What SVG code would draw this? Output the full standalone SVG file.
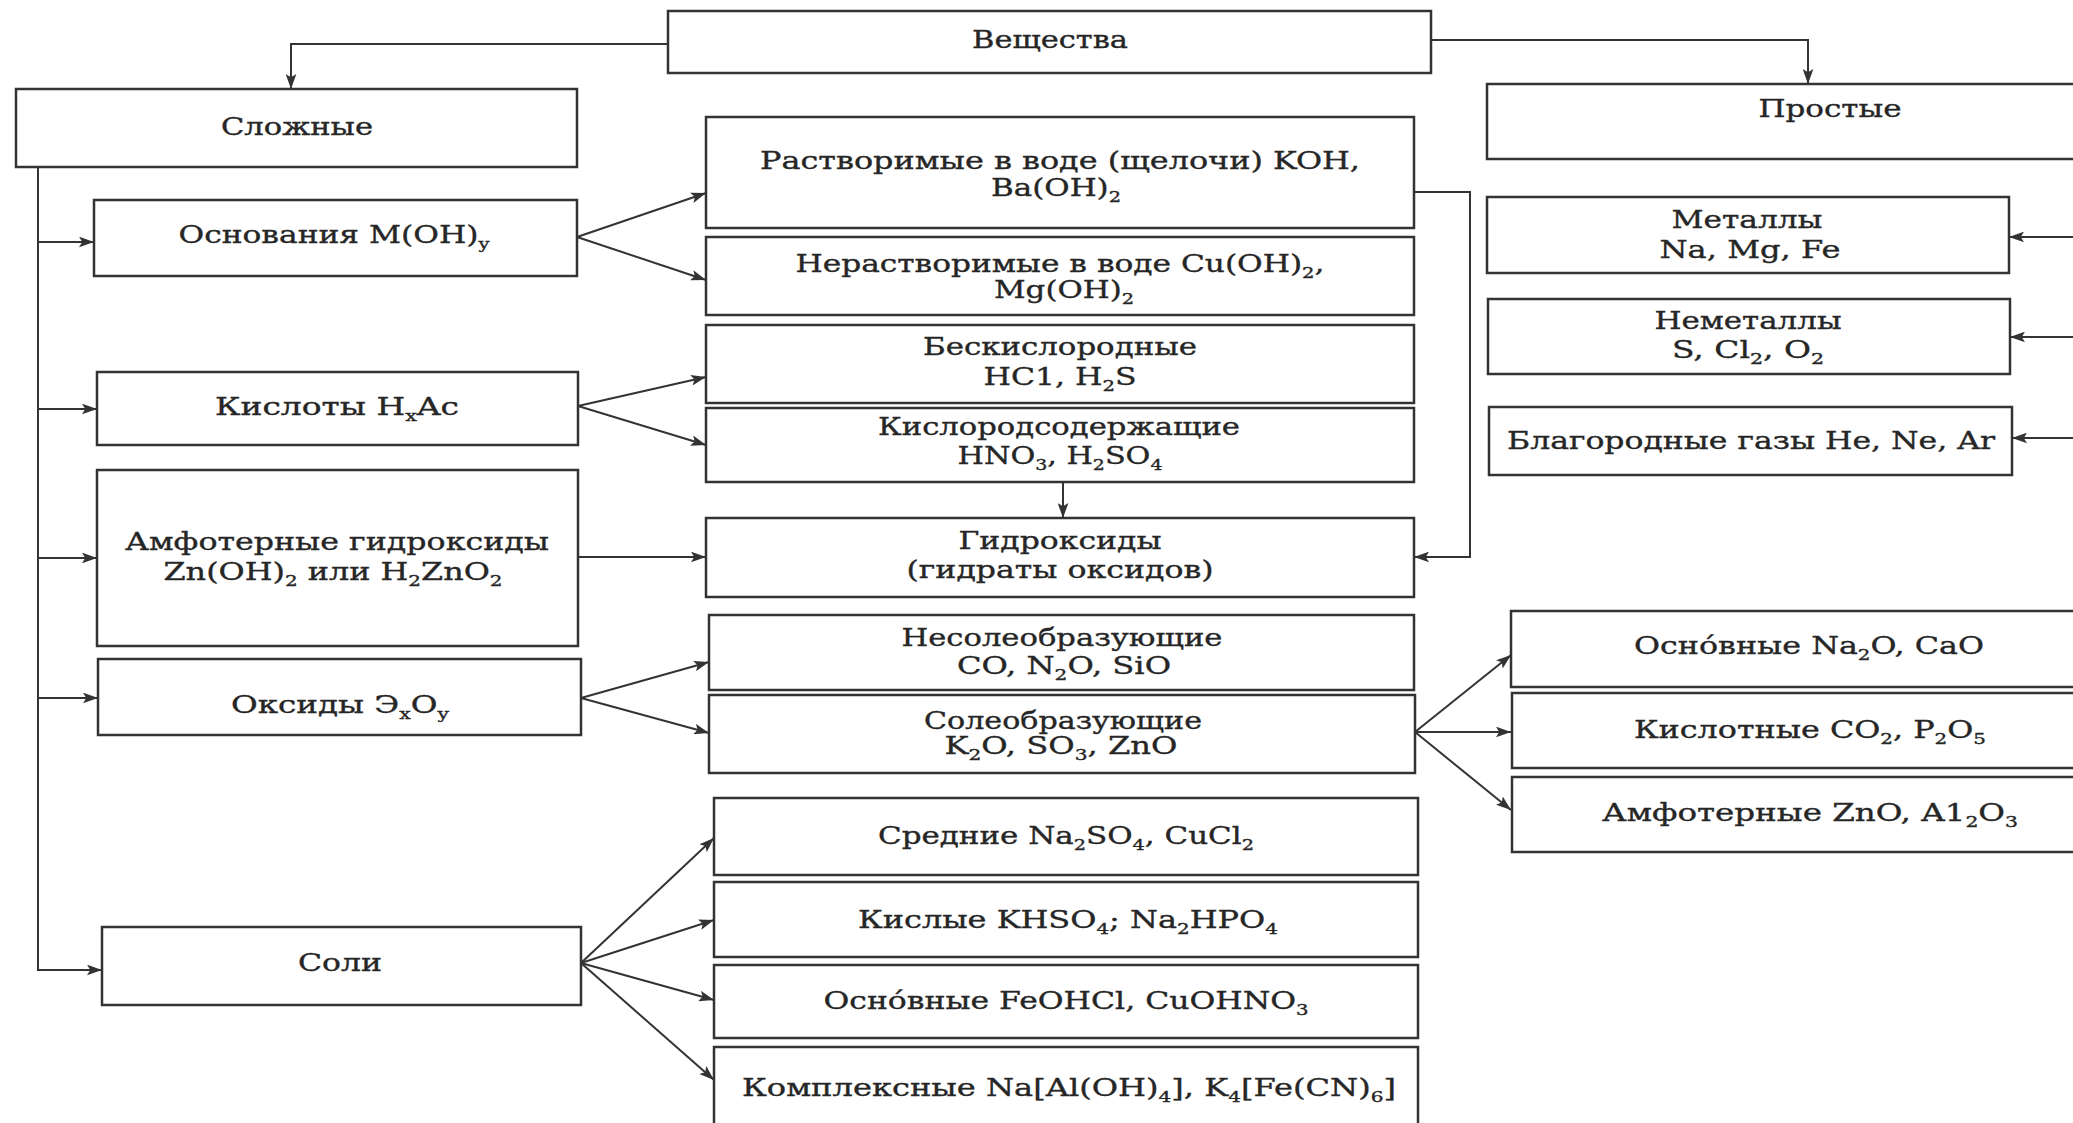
<svg xmlns="http://www.w3.org/2000/svg" width="2073" height="1123" viewBox="0 0 2073 1123">
<defs>
<style>
.bx{fill:#fff;stroke:#333;stroke-width:2.5}
.t{font-family:"DejaVu Serif","Liberation Serif",serif;font-size:24px;fill:#262626;stroke:#262626;stroke-width:0.35px;text-anchor:middle}
.sb{font-size:15px}
.cn{fill:none;stroke:#333;stroke-width:2}
</style>
<marker id="ah" viewBox="0 0 14 10" refX="14" refY="5" markerWidth="15" markerHeight="11" orient="auto" markerUnits="userSpaceOnUse">
<path d="M0,0 L14,5 L0,10 L3,5 z" fill="#333"/>
</marker>
</defs>
<rect x="0" y="0" width="2073" height="1123" fill="#fff"/>

<g id="connectors">
<path class="cn" d="M668,44 H291 V89" marker-end="url(#ah)"/>
<path class="cn" d="M1431,40 H1808 V84" marker-end="url(#ah)"/>
<path class="cn" d="M38,167 V970 H102" marker-end="url(#ah)"/>
<path class="cn" d="M38,242 H94" marker-end="url(#ah)"/>
<path class="cn" d="M38,409 H97" marker-end="url(#ah)"/>
<path class="cn" d="M38,558 H97" marker-end="url(#ah)"/>
<path class="cn" d="M38,698 H98" marker-end="url(#ah)"/>
<path class="cn" d="M577,237 L706,193" marker-end="url(#ah)"/>
<path class="cn" d="M577,237 L706,280" marker-end="url(#ah)"/>
<path class="cn" d="M578,406 L706,377" marker-end="url(#ah)"/>
<path class="cn" d="M578,406 L706,445" marker-end="url(#ah)"/>
<path class="cn" d="M578,557 H706" marker-end="url(#ah)"/>
<path class="cn" d="M1063,482 V518" marker-end="url(#ah)"/>
<path class="cn" d="M1414,192 H1470 V557 H1414" marker-end="url(#ah)"/>
<path class="cn" d="M581,698 L709,662" marker-end="url(#ah)"/>
<path class="cn" d="M581,698 L709,733" marker-end="url(#ah)"/>
<path class="cn" d="M1415,732 L1511,655" marker-end="url(#ah)"/>
<path class="cn" d="M1415,732 H1511" marker-end="url(#ah)"/>
<path class="cn" d="M1415,732 L1511,810" marker-end="url(#ah)"/>
<path class="cn" d="M581,963 L714,838" marker-end="url(#ah)"/>
<path class="cn" d="M581,963 L714,920" marker-end="url(#ah)"/>
<path class="cn" d="M581,963 L714,1000" marker-end="url(#ah)"/>
<path class="cn" d="M581,963 L714,1080" marker-end="url(#ah)"/>
<path class="cn" d="M2075,237 H2009" marker-end="url(#ah)"/>
<path class="cn" d="M2075,337 H2010" marker-end="url(#ah)"/>
<path class="cn" d="M2075,438 H2012" marker-end="url(#ah)"/>
</g>

<g id="n-veshchestva"><rect class="bx" x="668" y="11" width="763" height="62"/>
<text class="t" x="1050" y="48" textLength="156" lengthAdjust="spacingAndGlyphs">Вещества</text></g>

<g id="n-slozhnye"><rect class="bx" x="16" y="89" width="561" height="78"/>
<text class="t" x="297" y="135" textLength="152" lengthAdjust="spacingAndGlyphs">Сложные</text></g>

<g id="n-prostye"><rect class="bx" x="1487" y="84" width="620" height="75"/>
<text class="t" x="1830" y="117" textLength="143" lengthAdjust="spacingAndGlyphs">Простые</text></g>

<g id="n-osnovaniya"><rect class="bx" x="94" y="200" width="483" height="76"/>
<text class="t" x="334" y="243" textLength="311" lengthAdjust="spacingAndGlyphs">Основания M(OH)<tspan class="sb" dy="6">y</tspan></text></g>

<g id="n-kisloty"><rect class="bx" x="97" y="372" width="481" height="73"/>
<text class="t" x="337" y="415" textLength="244" lengthAdjust="spacingAndGlyphs">Кислоты H<tspan class="sb" dy="6">x</tspan><tspan dy="-6">Ac</tspan></text></g>

<g id="n-amfoternye-gidroksidy"><rect class="bx" x="97" y="470" width="481" height="176"/>
<text class="t" x="337" y="550" textLength="424" lengthAdjust="spacingAndGlyphs">Амфотерные гидроксиды</text>
<text class="t" x="333" y="580" textLength="339" lengthAdjust="spacingAndGlyphs">Zn(OH)<tspan class="sb" dy="6">2</tspan><tspan dy="-6"> или H</tspan><tspan class="sb" dy="6">2</tspan><tspan dy="-6">ZnO</tspan><tspan class="sb" dy="6">2</tspan></text></g>

<g id="n-oksidy"><rect class="bx" x="98" y="659" width="483" height="76"/>
<text class="t" x="340" y="713" textLength="218" lengthAdjust="spacingAndGlyphs">Оксиды Э<tspan class="sb" dy="6">x</tspan><tspan dy="-6">O</tspan><tspan class="sb" dy="6">y</tspan></text></g>

<g id="n-soli"><rect class="bx" x="102" y="927" width="479" height="78"/>
<text class="t" x="340" y="971" textLength="84" lengthAdjust="spacingAndGlyphs">Соли</text></g>

<g id="n-rastvorimye"><rect class="bx" x="706" y="117" width="708" height="111"/>
<text class="t" x="1060" y="169" textLength="600" lengthAdjust="spacingAndGlyphs">Растворимые в воде (щелочи) KOH,</text>
<text class="t" x="1056" y="196" textLength="130" lengthAdjust="spacingAndGlyphs">Ba(OH)<tspan class="sb" dy="6">2</tspan></text></g>

<g id="n-nerastvorimye"><rect class="bx" x="706" y="237" width="708" height="78"/>
<text class="t" x="1060" y="272" textLength="529" lengthAdjust="spacingAndGlyphs">Нерастворимые в воде Cu(OH)<tspan class="sb" dy="6">2</tspan><tspan dy="-6">,</tspan></text>
<text class="t" x="1064" y="298" textLength="140" lengthAdjust="spacingAndGlyphs">Mg(OH)<tspan class="sb" dy="6">2</tspan></text></g>

<g id="n-beskislorodnye"><rect class="bx" x="706" y="325" width="708" height="78"/>
<text class="t" x="1060" y="355" textLength="274" lengthAdjust="spacingAndGlyphs">Бескислородные</text>
<text class="t" x="1060" y="385" textLength="153" lengthAdjust="spacingAndGlyphs">HC1, H<tspan class="sb" dy="6">2</tspan><tspan dy="-6">S</tspan></text></g>

<g id="n-kislorodsoderzhashchie"><rect class="bx" x="706" y="408" width="708" height="74"/>
<text class="t" x="1059" y="435" textLength="362" lengthAdjust="spacingAndGlyphs">Кислородсодержащие</text>
<text class="t" x="1060" y="464" textLength="205" lengthAdjust="spacingAndGlyphs">HNO<tspan class="sb" dy="6">3</tspan><tspan dy="-6">, H</tspan><tspan class="sb" dy="6">2</tspan><tspan dy="-6">SO</tspan><tspan class="sb" dy="6">4</tspan></text></g>

<g id="n-gidroksidy"><rect class="bx" x="706" y="518" width="708" height="79"/>
<text class="t" x="1060" y="549" textLength="203" lengthAdjust="spacingAndGlyphs">Гидроксиды</text>
<text class="t" x="1060" y="578" textLength="307" lengthAdjust="spacingAndGlyphs">(гидраты оксидов)</text></g>

<g id="n-nesoleobrazuyushchie"><rect class="bx" x="709" y="615" width="705" height="75"/>
<text class="t" x="1062" y="646" textLength="321" lengthAdjust="spacingAndGlyphs">Несолеобразующие</text>
<text class="t" x="1064" y="674" textLength="214" lengthAdjust="spacingAndGlyphs">CO, N<tspan class="sb" dy="6">2</tspan><tspan dy="-6">O, SiO</tspan></text></g>

<g id="n-soleobrazuyushchie"><rect class="bx" x="709" y="695" width="706" height="78"/>
<text class="t" x="1063" y="729" textLength="278" lengthAdjust="spacingAndGlyphs">Солеобразующие</text>
<text class="t" x="1061" y="754" textLength="233" lengthAdjust="spacingAndGlyphs">K<tspan class="sb" dy="6">2</tspan><tspan dy="-6">O, SO</tspan><tspan class="sb" dy="6">3</tspan><tspan dy="-6">, ZnO</tspan></text></g>

<g id="n-srednie"><rect class="bx" x="714" y="798" width="704" height="77"/>
<text class="t" x="1066" y="844" textLength="376" lengthAdjust="spacingAndGlyphs">Средние Na<tspan class="sb" dy="6">2</tspan><tspan dy="-6">SO</tspan><tspan class="sb" dy="6">4</tspan><tspan dy="-6">, CuCl</tspan><tspan class="sb" dy="6">2</tspan></text></g>

<g id="n-kislye"><rect class="bx" x="714" y="882" width="704" height="75"/>
<text class="t" x="1068" y="928" textLength="420" lengthAdjust="spacingAndGlyphs">Кислые KHSO<tspan class="sb" dy="6">4</tspan><tspan dy="-6">; Na</tspan><tspan class="sb" dy="6">2</tspan><tspan dy="-6">HPO</tspan><tspan class="sb" dy="6">4</tspan></text></g>

<g id="n-osnovnye-soli"><rect class="bx" x="714" y="965" width="704" height="73"/>
<text class="t" x="1066" y="1009" textLength="485" lengthAdjust="spacingAndGlyphs">Осно́вные FeOHCl, CuOHNO<tspan class="sb" dy="6">3</tspan></text></g>

<g id="n-kompleksnye"><rect class="bx" x="714" y="1047" width="704" height="82"/>
<text class="t" x="1069" y="1096" textLength="654" lengthAdjust="spacingAndGlyphs">Комплексные Na[Al(OH)<tspan class="sb" dy="6">4</tspan><tspan dy="-6">], K</tspan><tspan class="sb" dy="6">4</tspan><tspan dy="-6">[Fe(CN)</tspan><tspan class="sb" dy="6">6</tspan><tspan dy="-6">]</tspan></text></g>

<g id="n-metally"><rect class="bx" x="1487" y="197" width="522" height="76"/>
<text class="t" x="1747" y="228" textLength="151" lengthAdjust="spacingAndGlyphs">Металлы</text>
<text class="t" x="1750" y="258" textLength="181" lengthAdjust="spacingAndGlyphs">Na, Mg, Fe</text></g>

<g id="n-nemetally"><rect class="bx" x="1488" y="299" width="522" height="75"/>
<text class="t" x="1748" y="329" textLength="187" lengthAdjust="spacingAndGlyphs">Неметаллы</text>
<text class="t" x="1748" y="358" textLength="152" lengthAdjust="spacingAndGlyphs">S, Cl<tspan class="sb" dy="6">2</tspan><tspan dy="-6">, O</tspan><tspan class="sb" dy="6">2</tspan></text></g>

<g id="n-blagorodnye"><rect class="bx" x="1489" y="407" width="523" height="68"/>
<text class="t" x="1751" y="449" textLength="488" lengthAdjust="spacingAndGlyphs">Благородные газы He, Ne, Ar</text></g>

<g id="n-osnovnye-oksidy"><rect class="bx" x="1511" y="611" width="600" height="76"/>
<text class="t" x="1809" y="654" textLength="350" lengthAdjust="spacingAndGlyphs">Осно́вные Na<tspan class="sb" dy="6">2</tspan><tspan dy="-6">O, CaO</tspan></text></g>

<g id="n-kislotnye"><rect class="bx" x="1512" y="693" width="600" height="75"/>
<text class="t" x="1810" y="738" textLength="352" lengthAdjust="spacingAndGlyphs">Кислотные CO<tspan class="sb" dy="6">2</tspan><tspan dy="-6">, P</tspan><tspan class="sb" dy="6">2</tspan><tspan dy="-6">O</tspan><tspan class="sb" dy="6">5</tspan></text></g>

<g id="n-amfoternye-oksidy"><rect class="bx" x="1512" y="777" width="600" height="75"/>
<text class="t" x="1810" y="821" textLength="416" lengthAdjust="spacingAndGlyphs">Амфотерные ZnO, A1<tspan class="sb" dy="6">2</tspan><tspan dy="-6">O</tspan><tspan class="sb" dy="6">3</tspan></text></g>
</svg>
